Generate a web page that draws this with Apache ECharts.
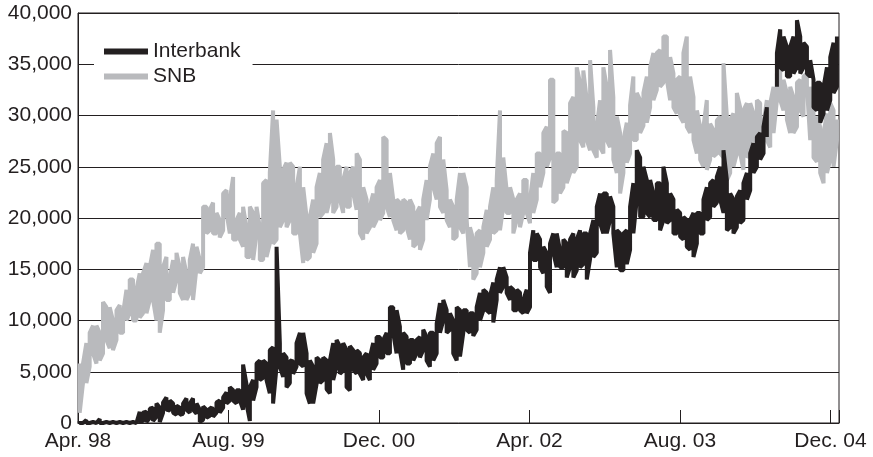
<!DOCTYPE html>
<html>
<head>
<meta charset="utf-8">
<script src="https://cdn.jsdelivr.net/npm/echarts@6/dist/echarts.min.js"></script>
<style>
html,body{margin:0;padding:0;background:#fff;}
#chart{width:873px;height:457px;}
</style>
</head>
<body>
<div id="chart"></div>
<script>
// Months since April 1998 of each sample
const sampleMonths = [
0.18,0.53,0.89,1.24,1.60,1.96,2.31,2.66,3.02,3.37,
3.72,4.09,4.44,4.79,5.15,5.50,5.85,6.21,6.56,6.91,
7.28,7.63,7.98,8.34,8.69,9.04,9.40,9.76,10.11,10.47,
10.82,11.17,11.53,11.88,12.23,12.60,12.95,13.30,13.66,14.01,
14.36,14.72,15.07,15.43,15.79,16.14,16.49,16.85,17.20,17.55,
17.91,18.27,18.62,18.98,19.33,19.68,20.04,20.39,20.74,21.11,
21.46,21.81,22.17,22.52,22.87,23.23,23.59,23.94,24.30,24.65,
25.00,25.36,25.71,26.06,26.43,26.78,27.13,27.49,27.84,28.19,
28.55,28.90,29.26,29.62,29.97,30.32,30.68,31.03,31.38,31.74,
32.10,32.45,32.81,33.16,33.51,33.87,34.22,34.57,34.94,35.29,
35.64,36.00,36.35,36.70,37.06,37.41,37.77,38.13,38.48,38.83,
39.19,39.54,39.89,40.26,40.61,40.96,41.32,41.67,42.02,42.38,
42.73,43.09,43.45,43.80,44.15,44.51,44.86,45.21,45.57,45.93,
46.28,46.64,46.99,47.34,47.70,48.05,48.40,48.77,49.12,49.47,
49.83,50.18,50.53,50.89,51.24,51.60,51.96,52.31,52.66,53.02,
53.37,53.72,54.09,54.44,54.79,55.15,55.50,55.85,56.21,56.56,
56.91,57.28,57.63,57.98,58.34,58.69,59.04,59.40,59.76,60.11,
60.47,60.82,61.17,61.53,61.88,62.23,62.60,62.95,63.30,63.66,
64.01,64.36,64.72,65.07,65.43,65.79,66.14,66.49,66.85,67.20,
67.55,67.91,68.27,68.62,68.98,69.33,69.68,70.04,70.39,70.74,
71.11,71.46,71.81,72.17,72.52,72.87,73.23,73.59,73.94,74.30,
74.65,75.00,75.36,75.71,76.06,76.43,76.78,77.13,77.49,77.84,
78.19,78.55,78.90,79.26,79.62,79.97,80.32,80.68
];

// SNB: upper and lower edge of the daily swing at each sample
const snbHigh = [
5800,5800,7800,8800,9500,9500,8800,11800,11300,11300,
10000,11000,11500,10700,13000,14000,14000,13000,14600,14600,
15600,15200,16900,17500,17500,15200,16200,14200,15900,16600,
15200,16200,14600,15900,17500,17200,15900,21100,21100,20800,
21500,20500,19800,22400,22700,21800,24000,19800,20500,21100,
19100,21100,20500,21100,19100,23400,23700,24400,30500,29600,
25000,24700,25400,25400,25000,23000,25000,23000,20100,20100,
21800,23000,24400,25700,27300,28300,25700,25000,25000,23700,
25000,24400,25000,26300,25700,23000,21800,21100,22400,23000,
23700,27900,27600,24400,21800,21800,21500,21800,21500,21800,
21100,20500,21100,21800,23700,25000,26300,27300,27900,25700,
22700,21800,21100,21800,24400,24400,23000,19100,17900,18500,
18800,19100,20800,21100,23000,23700,30500,25900,22700,23000,
21800,21800,22400,23700,23700,21800,24400,26300,26300,28300,
28900,33500,33500,26300,26300,28500,28300,31200,31800,34700,
33200,34400,31500,35400,30800,28900,31500,34700,32800,36400,
31800,29900,28300,27600,29300,31000,33800,32200,31500,32200,
33800,34700,36100,36100,36400,37700,37700,35700,34100,33500,
33800,36100,37700,33800,31800,30500,28900,28900,31500,29200,
28600,29500,29900,35100,29900,29600,30200,32200,30800,30500,
31200,31200,30200,31500,31200,29200,31500,31200,32800,34100,
35400,33500,32200,32800,31800,33200,33500,33800,34100,32800,
30500,29900,28900,28300,30200,31200,30500,29600
];
const snbLow = [
1000,3900,3900,5500,6800,5800,6100,6800,8100,7300,
7100,8100,8800,8800,10000,10700,10000,10000,10300,10700,
10700,12000,12000,10000,8800,11000,12000,12000,12700,14000,
12700,12000,12000,12700,12000,15200,14600,15200,18500,18800,
18500,18500,18100,18800,20500,18500,17900,17900,17900,17200,
16200,16200,15900,18500,15900,15900,16200,17500,17500,17900,
19100,19800,19100,19800,18500,18500,18500,15600,15900,16200,
16600,17500,20100,20500,20500,21800,20500,21100,21800,20500,
21100,21100,22400,20800,18500,17900,18500,19100,19100,19800,
19800,20500,21100,20100,19800,18800,18500,18800,19100,17900,
17200,17500,16900,17900,19800,21800,23000,21800,21100,20500,
19800,19100,17900,18200,19100,18500,19800,15200,14000,14600,
15200,16600,17200,17900,18500,18800,18800,21100,20500,20500,
18500,19800,19100,20500,20500,19500,20500,21800,23000,24400,
25000,25900,21500,21800,22400,23000,23400,24400,24400,25000,
27600,26900,27600,26600,26600,25900,26900,26300,27600,26900,
25700,24400,22400,24400,25400,26300,27600,27600,28300,29000,
29300,30800,31500,32500,32800,33200,33500,31500,30800,30200,
29900,29300,28900,28300,27600,26300,25700,25000,24700,25700,
26000,26300,26300,25900,23700,24400,25000,26300,26300,24700,
25900,26300,27600,27300,25900,26300,27600,26900,28300,31500,
31500,30500,29600,28300,28300,28900,30500,29900,32800,27600,
25900,25500,24400,23400,24400,25700,25000,27600
];

// Interbank: upper and lower edge of the daily swing at each sample
const interbankHigh = [
200,100,300,100,100,100,400,100,100,100,
100,100,100,100,100,100,100,100,1100,1000,
1100,1400,1500,1900,1500,2000,2500,2200,1900,1700,
1500,1900,2400,1900,2400,1900,1300,1600,1300,1500,
1400,2000,2200,2500,3000,3500,3200,3200,3200,5700,
3800,3500,4200,5800,6100,6100,5800,7100,7400,17200,
7800,6800,6400,6100,6000,7800,8800,8800,6800,6100,
5500,6400,6100,6400,6100,6100,7800,8100,7500,7800,
7100,7500,7100,7100,6800,6400,6800,6400,7800,8400,
8400,8100,8800,11300,11300,11000,9400,8800,8400,8100,
8100,8100,8400,9100,8400,8800,8800,9700,11700,12000,
11000,10700,10000,11300,11000,11000,11000,10700,10700,11300,
12700,13000,12700,12400,13700,14000,15200,15200,14200,13300,
13000,13000,12700,12000,13000,16600,18800,18500,17900,17200,
16600,17500,18500,18500,16900,17900,17500,17900,18500,17900,
18800,18500,18500,18500,19800,21100,22400,22400,22400,22100,
21100,18800,18500,18500,18800,21100,23400,26600,25900,25000,
23700,23700,22400,23400,23400,25000,23400,22400,21800,20800,
20500,20100,19800,19800,20500,20500,20500,21800,23000,23400,
23700,24000,25000,26600,23700,22400,21800,22100,22700,23400,
24400,26300,27300,27900,28300,28900,30800,null,null,36100,
38400,37700,36700,36700,37700,39300,37700,37100,36700,35400,
33500,33200,33200,32800,34700,35700,37100,37700
];
const interbankLow = [
0,0,0,0,0,0,0,0,0,0,
0,0,0,0,0,0,0,0,100,200,
100,500,200,600,100,1000,1300,1200,1000,800,
800,900,1300,1000,1300,900,100,300,500,700,
600,1000,1000,1500,1900,2200,2200,1900,2200,1300,
1900,200,2200,3500,4200,4400,4200,2900,1900,5500,
5500,4500,3500,3900,4800,5500,5800,5500,2900,1900,
1900,3800,3900,4200,3300,2900,4200,5500,4800,5100,
3500,3200,5200,4800,4800,4200,4800,4200,5200,5800,
6400,6400,6800,6800,8800,6800,7100,5200,5800,5800,
6100,6800,6400,7100,6100,5500,6100,6800,8800,10000,
8800,9100,6800,6100,6500,8800,9100,8800,8500,9100,
10000,11000,11000,10700,9800,12000,12700,13300,12700,12000,
11000,11000,11000,10700,10700,11300,15900,15900,15200,14600,
13300,12700,16600,15200,15200,15200,14200,15200,14200,14900,
15200,15500,14000,16000,16200,16600,19500,18500,18500,19800,
18500,15200,14900,14900,15500,16900,18500,21800,20100,20100,
20500,20100,19800,19800,18800,19800,19500,19800,18500,18500,
18200,17900,17200,16900,16200,17500,18500,18500,19800,20100,
21100,21500,21800,20500,18800,19100,18500,19100,19500,19800,
21800,22700,24400,25000,25700,26300,27900,null,null,32800,
34700,34400,33800,33800,34100,34700,34100,34700,34100,33800,
30800,30500,29300,30200,30500,31500,32200,32800
];

// Axis ticks
const xTickMonths = [0, 16, 32, 48, 64, 80];
const xTickLabels = ['Apr. 98', 'Aug. 99', 'Dec. 00', 'Apr. 02', 'Aug. 03', 'Dec. 04'];
const yTicks = [0, 5000, 10000, 15000, 20000, 25000, 30000, 35000, 40000];

function swing(months, hi, lo) {
  const out = [];
  for (let i = 0; i < months.length; i++) {
    const h = hi[i], l = lo[i];
    if (h === null || l === null) { out.push([months[i], null]); continue; }
    if (i % 2 === 0) { out.push([months[i], h]); out.push([months[i], l]); }
    else { out.push([months[i], l]); out.push([months[i], h]); }
  }
  return out;
}

const FONT = 'Liberation Sans, Arial, Helvetica, sans-serif';
const INK = '#231f20';
const GREY = '#b9babd';

const chart = echarts.init(document.getElementById('chart'), null, {renderer: 'canvas'});
chart.setOption({
  animation: false,
  backgroundColor: '#ffffff',
  grid: {left: 78, right: 34, top: 13, bottom: 34, show: true, borderColor: INK, borderWidth: 1, backgroundColor: 'transparent'},
  legend: {
    data: ['Interbank', 'SNB'],
    orient: 'vertical',
    left: 94, top: 35,
    backgroundColor: '#ffffff',
    padding: [6, 12, 6, 10],
    icon: 'rect',
    itemWidth: 44, itemHeight: 6, itemGap: 4,
    textStyle: {fontFamily: FONT, fontSize: 21, color: INK, lineHeight: 21},
    selectedMode: false
  },
  xAxis: {
    type: 'value', min: 0, max: 80.9, interval: 16,
    axisLine: {show: true, lineStyle: {color: INK, width: 1}},
    axisTick: {show: true, inside: true, length: 13, lineStyle: {color: INK, width: 1}},
    splitLine: {show: false},
    axisLabel: {
      fontFamily: FONT, fontSize: 21, color: INK, margin: 8,
      showMaxLabel: true, showMinLabel: true,
      formatter: function (v) {
        for (let i = 0; i < xTickMonths.length; i++) if (Math.abs(v - xTickMonths[i]) < 0.01) return xTickLabels[i];
        return '';
      }
    }
  },
  yAxis: {
    type: 'value', min: yTicks[0], max: yTicks[yTicks.length - 1], interval: 5000,
    axisLine: {show: true, lineStyle: {color: INK, width: 1}},
    axisTick: {show: false},
    splitLine: {show: true, lineStyle: {color: INK, width: 1}},
    axisLabel: {
      fontFamily: FONT, fontSize: 21, color: INK, margin: 6,
      formatter: function (v) { return String(v).replace(/\B(?=(\d{3})+(?!\d))/g, ','); }
    }
  },
  series: [
    {
      name: 'SNB', type: 'line', z: 2,
      data: swing(sampleMonths, snbHigh, snbLow),
      showSymbol: false, symbol: 'none', connectNulls: false,
      color: GREY, lineStyle: {color: GREY, width: 4, join: 'bevel'},
      emphasis: {disabled: true}, silent: true
    },
    {
      name: 'Interbank', type: 'line', z: 3,
      data: swing(sampleMonths, interbankHigh, interbankLow),
      showSymbol: false, symbol: 'none', connectNulls: false,
      color: INK, lineStyle: {color: INK, width: 4, join: 'bevel'},
      emphasis: {disabled: true}, silent: true
    }
  ]
});
</script>
</body>
</html>
